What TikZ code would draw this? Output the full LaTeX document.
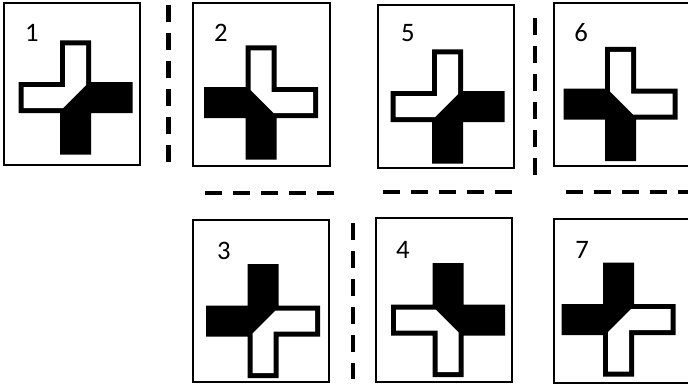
\documentclass[tikz,border=0pt]{standalone}
\usepackage{fontspec}
\setmainfont{Carlito}
\usetikzlibrary{calc}
\tikzset{
  tilebox/.style={draw=black,line width=1.5pt,fill=white},
  divider/.style={draw=black,line width=3.4pt,dash pattern=on 12.4pt off 8.6pt},
  num/.style={font=\fontsize{20}{24}\selectfont,inner sep=0pt,anchor=center,text=black},
  solidpart/.style={fill=black},
  hollowpart/.style={fill=white},
}

\begin{document}
\begin{tikzpicture}[x=0.75pt,y=-0.75pt]
\clip (0,0) rectangle (688,385);
\fill[white] (0,0) rectangle (688,385);

% ---------- tiles ----------
\foreach \n/\bx/\by/\ex/\ey/\cx/\cy/\fx/\fy/\lx/\ly in {
  1/4/3/140/165/75.5/97.5/1/1/32/33,
  2/193/3/330/166/261/102.5/-1/1/221/33,
  5/378/5/514/168/447.5/106.5/1/1/408/33,
  6/554/3/700/166/620.5/104/-1/1/581/33,
  3/193/220/329/382/263/321/-1/-1/224/251,
  4/376/218/512/382/448/320/1/-1/403/250,
  7/554/219/700/383/618.5/319.5/-1/-1/582/250}
{
  \draw[tilebox] (\bx,\by) rectangle (\ex,\ey);
  \node[num] (n\n) at (\lx,\ly) {\n};
  \begin{scope}[shift={(\cx,\cy)},xscale=\fx,yscale=\fy]
    % full cross, then the hollow half inside it
    \fill[solidpart] (-15.5,-57) -- (15.5,-57) -- (15.5,-15.5) -- (57,-15.5) -- (57,15.5) -- (15.5,15.5)
      -- (15.5,57) -- (-15.5,57) -- (-15.5,15.5) -- (-57,15.5) -- (-57,-15.5) -- (-15.5,-15.5) -- cycle;
    \fill[hollowpart] (-10.5,-52) -- (10.5,-52) -- (10.5,-12.5) -- (-12.5,10.5) -- (-52,10.5) -- (-52,-10.5) -- (-10.5,-10.5) -- cycle;
  \end{scope}
}

% ---------- dividers ----------
\draw[divider] (168.5,5) -- (168.5,162);
\draw[divider] (535,18) -- (535,175);
\draw[divider] (353,223) -- (353,379);
\draw[divider] (205,193) -- (335,193);
\draw[divider] (383,192) -- (512,192);
\draw[divider] (566,192) -- (700,192);

\end{tikzpicture}
\end{document}
